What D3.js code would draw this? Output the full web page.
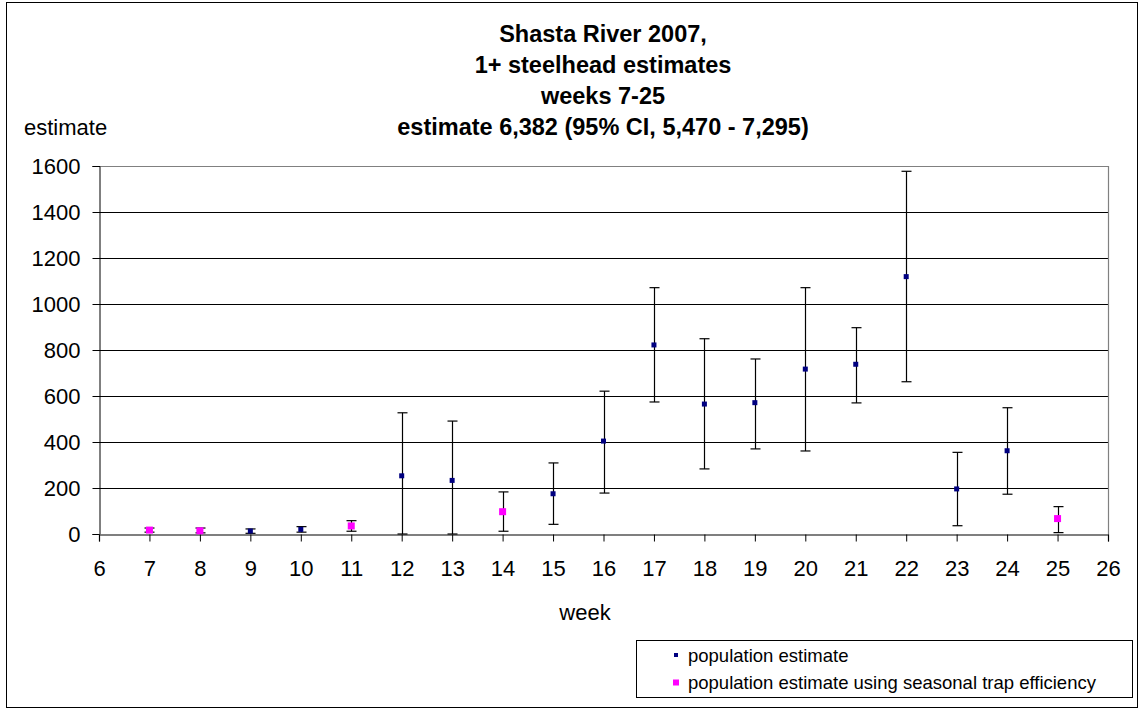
<!DOCTYPE html>
<html>
<head>
<meta charset="utf-8">
<script src="https://cdn.jsdelivr.net/npm/d3@7"></script>
<style>
  html, body { margin: 0; padding: 0; background: #fff; }
  svg { display: block; font-family: "Liberation Sans", Arial, sans-serif; }
</style>
</head>
<body>
<svg id="chart" width="1140" height="710"></svg>
<script>
// Weekly 1+ steelhead estimates, Shasta River 2007 (weeks 7-25)
const titleLines = [
  "Shasta River 2007,",
  "1+ steelhead estimates",
  "weeks 7-25",
  "estimate 6,382 (95% CI, 5,470 - 7,295)"
];

// weekly population estimate
const popWeeks = [9, 10, 12, 13, 15, 16, 17, 18, 19, 20, 21, 22, 23, 24];
const popEst   = [13, 20, 253, 233, 175, 404, 822, 565, 571, 717, 738, 1119, 196, 362];
const popLow   = [3, 8, 0, 0, 42, 178, 574, 283, 370, 361, 570, 662, 36, 173];
const popHigh  = [22, 32, 527, 491, 309, 621, 1071, 849, 761, 1071, 897, 1577, 355, 549];

// weeks estimated with the seasonal trap efficiency
const seasWeeks = [7, 8, 11, 14, 25];
const seasEst   = [17, 14, 35, 97, 67];
const seasLow   = [8, 5, 12, 12, 6];
const seasHigh  = [26, 26, 58, 183, 119];

const xTicks = d3.range(6, 27);
const yTicks = [0, 200, 400, 600, 800, 1000, 1200, 1400, 1600];

const seriesNames = ["population estimate", "population estimate using seasonal trap efficiency"];
const seriesColors = ["#000080", "#ff00ff"];

const svg = d3.select("#chart");

// outer chart frame
svg.append("rect")
  .attr("x", 6.5).attr("y", 2.5)
  .attr("width", 1131).attr("height", 705)
  .attr("fill", "#fff").attr("stroke", "#000").attr("stroke-width", 1);

const plot = { left: 99, right: 1108, top: 166, bottom: 534 };

const x = d3.scaleLinear().domain([6, 26]).range([plot.left, plot.right]);
const y = d3.scaleLinear().domain([0, 1600]).range([plot.bottom, plot.top]);

// horizontal gridlines
svg.append("g")
  .selectAll("line")
  .data(yTicks.filter(v => v > 0 && v < 1600))
  .join("line")
  .attr("x1", plot.left).attr("x2", plot.right)
  .attr("y1", d => Math.round(y(d)) + 0.5).attr("y2", d => Math.round(y(d)) + 0.5)
  .attr("stroke", "#000").attr("stroke-width", 1);

// plot area border (top and right)
svg.append("path")
  .attr("d", `M${plot.left},${plot.top + 0.5}H${plot.right + 0.5}V${plot.bottom}`)
  .attr("fill", "none").attr("stroke", "#808080").attr("stroke-width", 1.2);

// y axis
const yAxis = d3.axisLeft(y).tickValues(yTicks).tickSize(7).tickPadding(12).tickFormat(d3.format("d"));
const gy = svg.append("g")
  .attr("transform", `translate(${plot.left + 0.5},0)`)
  .call(yAxis);
gy.select(".domain").attr("stroke", "#000");
gy.selectAll(".tick line").attr("stroke", "#000");
gy.selectAll(".tick text")
  .attr("font-size", 22).attr("fill", "#000")
  .attr("font-family", "'Liberation Sans', Arial, sans-serif");

// x axis
const xAxis = d3.axisBottom(x).tickValues(xTicks).tickSize(7).tickPadding(19).tickFormat(d3.format("d"));
const gx = svg.append("g")
  .attr("transform", `translate(0,${plot.bottom + 0.5})`)
  .call(xAxis);
gx.select(".domain").attr("stroke", "#555").attr("stroke-width", 1.3);
gx.selectAll(".tick line").attr("stroke", "#000");
gx.selectAll(".tick text")
  .attr("font-size", 22).attr("fill", "#000")
  .attr("font-family", "'Liberation Sans', Arial, sans-serif");

// error bars with caps
function drawErrorBars(weeks, low, high) {
  const g = svg.append("g").attr("stroke", "#000").attr("stroke-width", 1.2).attr("fill", "none");
  const capHalf = 5;
  weeks.forEach((w, i) => {
    const cx = Math.round(x(w)) + 0.5;
    g.append("line").attr("x1", cx).attr("x2", cx).attr("y1", y(low[i])).attr("y2", y(high[i]));
    g.append("line").attr("x1", cx - capHalf).attr("x2", cx + capHalf).attr("y1", y(high[i])).attr("y2", y(high[i]));
    g.append("line").attr("x1", cx - capHalf).attr("x2", cx + capHalf).attr("y1", y(low[i])).attr("y2", y(low[i]));
  });
}
drawErrorBars(popWeeks, popLow, popHigh);
drawErrorBars(seasWeeks, seasLow, seasHigh);

// markers
function drawMarkers(weeks, est, color, size) {
  svg.append("g")
    .selectAll("rect")
    .data(weeks.map((w, i) => ({ w, v: est[i] })))
    .join("rect")
    .attr("x", d => x(d.w) - size / 2)
    .attr("y", d => y(d.v) - size / 2)
    .attr("width", size).attr("height", size)
    .attr("fill", color);
}
drawMarkers(popWeeks, popEst, seriesColors[0], 5);
drawMarkers(seasWeeks, seasEst, seriesColors[1], 7);

// title
svg.append("g")
  .selectAll("text")
  .data(titleLines)
  .join("text")
  .attr("x", 603)
  .attr("y", (d, i) => 42 + i * 31)
  .attr("text-anchor", "middle")
  .attr("font-size", 23.5).attr("font-weight", "bold").attr("fill", "#000")
  .text(d => d);

// axis titles
svg.append("text").attr("x", 24).attr("y", 135)
  .attr("font-size", 22).attr("fill", "#000").text("estimate");
svg.append("text").attr("x", 585).attr("y", 620).attr("text-anchor", "middle")
  .attr("font-size", 22).attr("fill", "#000").text("week");

// legend
const legend = svg.append("g");
legend.append("rect")
  .attr("x", 636.5).attr("y", 640.5)
  .attr("width", 496).attr("height", 57)
  .attr("fill", "#fff").attr("stroke", "#000").attr("stroke-width", 1);
const legendSizes = [4, 6];
seriesNames.forEach((name, i) => {
  const cy = 655 + i * 27.5;
  legend.append("rect")
    .attr("x", 676 - legendSizes[i] / 2).attr("y", cy - legendSizes[i] / 2)
    .attr("width", legendSizes[i]).attr("height", legendSizes[i])
    .attr("fill", seriesColors[i]);
  legend.append("text")
    .attr("x", 688).attr("y", cy + 6.5)
    .attr("font-size", 18.5).attr("fill", "#000")
    .text(name);
});
</script>
</body>
</html>
